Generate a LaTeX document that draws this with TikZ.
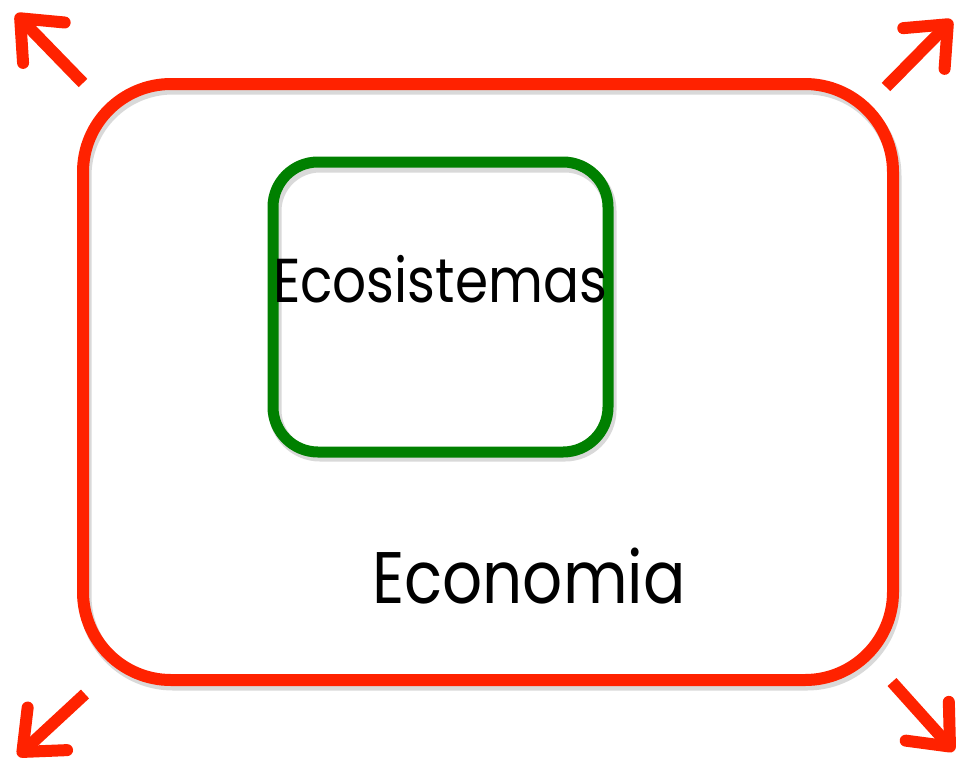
\documentclass[tikz,border=0pt]{standalone}
\usepackage{fontspec}
\setmainfont{Poppins}
\usetikzlibrary{arrows.meta,positioning}

\definecolor{boxred}{HTML}{FF2200}
\definecolor{boxgreen}{HTML}{008000}

\begin{document}
\begin{tikzpicture}
[
	              x = 1pt,
	              y = -1pt,
	   frame/.style = { draw, rectangle, fill=none, inner sep=0pt },
	  shadow/.style = { draw=black!15, line width=13pt, rounded corners=#1 },
	   grows/.style = { draw=boxred, line width=12pt, line cap=butt,
	                    -{Straight Barb[length=34pt, width=58pt, line cap=round, line join=round]} },
	    word/.style = { draw=none, fill=none, anchor=base, inner sep=0pt, xscale=0.86 }
]
	\useasboundingbox (0,0) rectangle (956,761);

	% shadows under the frames
	\draw [shadow=88pt] (85,88) rectangle (895,684);
	\draw [shadow=45pt] (275,166) rectangle (610,455);

	\node (economia) at (488,382) [frame, draw=boxred, line width=12pt, rounded corners=88pt,
	                               minimum width=810pt, minimum height=596pt] {};
	\node (ecosistemas) at (440.5,307) [frame, draw=boxgreen, line width=11pt, rounded corners=45pt,
	                                    minimum width=335pt, minimum height=290pt] {};

	\node (t1) at (440,302) [word, font=\fontsize{62}{62}\selectfont] {Ecosistemas};
	\node (t2) at (529,603) [word, font=\fontsize{73}{73}\selectfont] {Economia};

	\coordinate (nw) at (83,83);   \coordinate (nwtip) at (16,14);
	\coordinate (ne) at (886,87);  \coordinate (netip) at (952,20);
	\coordinate (sw) at (85,694);  \coordinate (swtip) at (18,756);
	\coordinate (se) at (892,682); \coordinate (setip) at (954,751);

	\draw [grows] (nw) -- (nwtip);
	\draw [grows] (ne) -- (netip);
	\draw [grows] (sw) -- (swtip);
	\draw [grows] (se) -- (setip);

\end{tikzpicture}
\end{document}
